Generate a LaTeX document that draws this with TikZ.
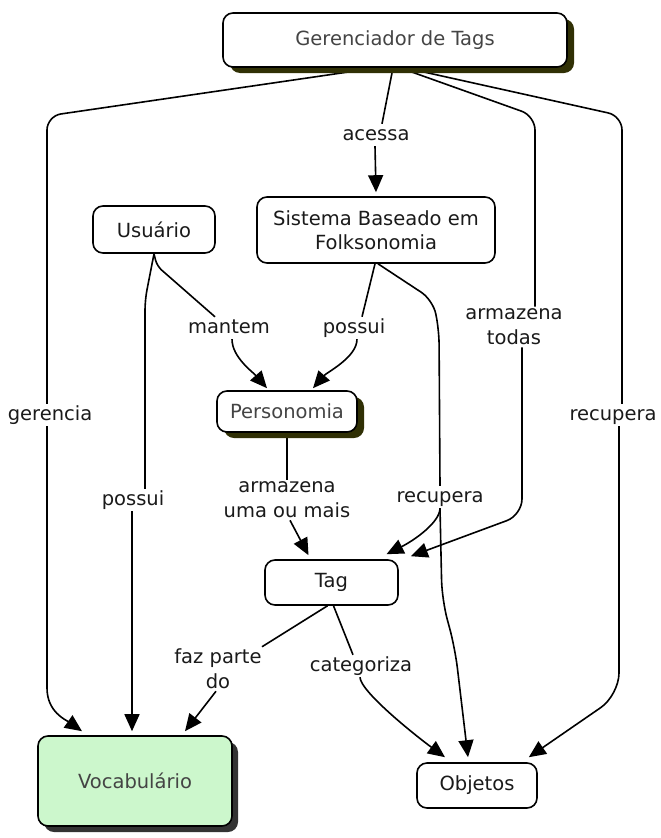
\documentclass[tikz,border=0pt]{standalone}
\usepackage{fontspec}
\setmainfont{DejaVu Sans}
\usetikzlibrary{arrows.meta,shadows}
\definecolor{olivedark}{HTML}{303005}
\definecolor{vocgreen}{HTML}{CCF7CC}
\definecolor{txtgray}{HTML}{444444}
\definecolor{txtdark}{HTML}{1A1A1A}
\pgfdeclarelayer{bg}
\pgfsetlayers{bg,main}
\begin{document}
\begin{tikzpicture}[x=1pt,y=-1pt,
  every node/.style={font=\fontsize{19.5}{24}\selectfont},
  box/.style={draw=black, line width=1.6pt, rounded corners=10pt, fill=white, text=txtdark, inner sep=2pt},
  lbl/.style={text=txtdark, inner sep=2pt, text height=14pt, text depth=4pt, anchor=base},
  lbltwo/.style={text=txtdark, inner sep=2pt, align=center, font=\fontsize{19.5}{25}\selectfont},
  conn/.style={draw=black, line width=1.6pt},
  arrowc/.style={conn, -{Triangle[length=17pt,width=15pt]}},
  oshadow/.style={drop shadow={shadow xshift=7pt,shadow yshift=-6pt,opacity=1,fill=olivedark}},
  gshadow/.style={drop shadow={shadow xshift=6pt,shadow yshift=-6pt,opacity=1,fill=black!80}},
]
\useasboundingbox (0,0) rectangle (661,838);

% concepts
\node[box, oshadow, text=txtgray, minimum width=344pt, minimum height=54pt] (ger) at (395,40) {Gerenciador de Tags};
\node[box, minimum width=122pt, minimum height=47pt] (usu) at (154,229.5) {Usuário};
\node[box, align=center, minimum width=238pt, minimum height=66pt] (sis) at (376,230) {Sistema Baseado em\\Folksonomia};
\node[box, oshadow, text=txtgray, minimum width=140pt, minimum height=41pt] (per) at (287,411.5) {Personomia};
\node[box, minimum width=133pt, minimum height=45pt] (tag) at (331.5,582.5) {Tag};
\node[box, gshadow, fill=vocgreen, text=txtgray, minimum width=194pt, minimum height=90pt] (voc) at (135,781) {Vocabulário};
\node[box, minimum width=120pt, minimum height=45pt] (obj) at (477,785.5) {Objetos};

% linking phrases
\node[lbl] (acl) at (376,140) {acessa};
\node[lbl] (mtl) at (229,333) {mantem};
\node[lbl] (ps1) at (354,333) {possui};
\node[lbltwo] (atl) at (514,327) {armazena\\todas};
\node[lbl] (gerl) at (50,420) {gerencia};
\node[lbl] (recr) at (613,420) {recupera};
\node[lbl] (psl) at (133,505) {possui};
\node[lbltwo] (aul) at (287,500) {armazena\\uma ou mais};
\node[lbl] (rml) at (440,502) {recupera};
\node[lbltwo] (fzl) at (218,669) {faz parte\\do};
\node[lbl] (cgl) at (361,671) {categoriza};

\begin{pgfonlayer}{bg}
\fill[white] (0,0) rectangle (661,838);
% gerencia
\draw[conn, rounded corners=14pt] ([xshift=-18pt]ger.south) -- (47,116) -- ([xshift=-3pt]gerl.north);
\draw[arrowc] ([xshift=-3pt]gerl.south) -- (47,688) .. controls (47,712) and (66,720) .. ([xshift=-53pt,yshift=4pt]voc.north);
% acessa
\draw[conn] ([xshift=-2pt]ger.south) -- ([xshift=6pt]acl.north);
\draw[arrowc] ([xshift=-1pt]acl.south) -- ([yshift=4pt]sis.north);
% armazena todas
\draw[conn, rounded corners=14pt] ([xshift=5pt]ger.south) -- (535,116) -- ([xshift=21pt]atl.north);
\draw[arrowc, rounded corners=16pt] ([xshift=8pt]atl.south) -- (522,515) -- ([xshift=12pt,yshift=3pt]tag.north east);
% recupera (right)
\draw[conn, rounded corners=14pt] ([xshift=10pt]ger.south) -- (622,116) -- ([xshift=9pt]recr.north);
\draw[arrowc, rounded corners=22pt] ([xshift=6pt]recr.south) -- (619,695) -- ([xshift=-9pt,yshift=5pt]obj.north east);
% mantem
\draw[conn, rounded corners=6pt] (usu.south) -- (157,266) -- ([xshift=-14pt]mtl.north);
\draw[arrowc] ([xshift=3pt]mtl.south) .. controls +(0,18) and +(-14,-16) .. ([xshift=-20pt,yshift=2pt]per.north);
% possui (left)
\draw[conn, rounded corners=10pt] (usu.south) -- (145,300) -- ([xshift=12pt]psl.north);
\draw[arrowc] ([xshift=-1pt]psl.south) -- ([xshift=-3pt,yshift=4pt]voc.north);
% possui (upper)
\draw[conn] ([xshift=-1pt]sis.south) -- ([xshift=8pt]ps1.north);
\draw[arrowc] ([xshift=3pt]ps1.south) .. controls +(0,18) and +(14,-16) .. ([xshift=26pt,yshift=2pt]per.north);
% recupera (middle)
\draw[conn, rounded corners=14pt] ([xshift=2pt]sis.south) -- (433,300) -- (439,330) -- (rml.north);
\draw[arrowc] (rml.south) .. controls +(0,14) and +(28,-14) .. ([xshift=55pt,yshift=5pt]tag.north);
\draw[arrowc, rounded corners=20pt] (rml.south) -- (442,600) -- (455,648) -- ([xshift=-9pt,yshift=5pt]obj.north);
% armazena uma ou mais
\draw[conn] (per.south) -- (aul.north);
\draw[arrowc] ([xshift=3pt]aul.south) -- ([xshift=-23pt,yshift=4pt]tag.north);
% faz parte do
\draw[conn] ([xshift=-4pt]tag.south) -- ([xshift=44pt]fzl.north);
\draw[arrowc] ([xshift=-2pt]fzl.south) -- ([xshift=50pt,yshift=4pt]voc.north);
% categoriza
\draw[conn] ([xshift=2pt]tag.south) -- ([xshift=-8pt]cgl.north);
\draw[arrowc] ([xshift=-1pt]cgl.south) .. controls +(0,14) and +(-30,-22) .. ([xshift=-32pt,yshift=5pt]obj.north);
\end{pgfonlayer}
\end{tikzpicture}
\end{document}
